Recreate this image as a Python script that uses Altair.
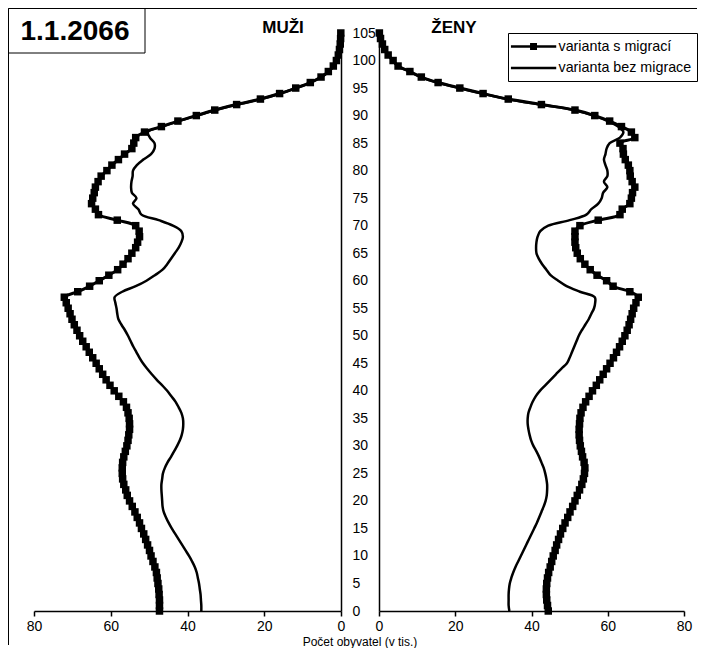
import altair as alt
import pandas as pd

ages = list(range(0, 106))

men_mig = [47.3, 47.3, 47.3, 47.4, 47.5, 47.7, 47.9, 48.1, 48.5, 49.0,
           49.5, 49.9, 50.4, 50.9, 51.4, 52.0, 52.5, 53.1, 53.7, 54.4,
           55.1, 55.7, 56.1, 56.6, 56.9, 57.0, 57.0, 56.9, 56.6, 56.2,
           55.8, 55.5, 55.3, 55.1, 55.1, 55.2, 55.5, 55.9, 56.7, 57.9,
           59.1, 60.2, 61.2, 62.1, 63.0, 63.8, 64.7, 65.6, 66.4, 67.3,
           68.1, 68.8, 69.5, 70.1, 70.6, 71.1, 71.6, 72.1, 68.6, 65.5,
           63.0, 60.5, 58.2, 56.8, 55.5, 54.5, 53.5, 53.0, 52.5, 52.6,
           53.5, 58.3, 63.2, 64.0, 65.0, 64.7, 64.3, 64.0, 63.3, 62.5,
           61.0, 59.7, 58.0, 56.4, 54.5, 54.0, 53.5, 51.2, 46.8, 42.5,
           37.7, 32.9, 27.2, 21.0, 16.0, 11.8, 8.0, 5.2, 3.3, 2.0,
           1.2, 0.7, 0.4, 0.2, 0.1, 0.05]

men_nomig = [36.4, 36.4, 36.5, 36.6, 36.8, 37.0, 37.3, 37.6, 38.1, 38.8,
             39.6, 40.5, 41.4, 42.3, 43.2, 44.1, 44.9, 45.6, 46.2, 46.5,
             46.6, 46.7, 46.8, 46.8, 46.6, 46.4, 45.9, 45.2, 44.3, 43.5,
             42.7, 42.0, 41.5, 41.2, 41.1, 41.2, 41.6, 42.3, 43.1, 44.2,
             45.3, 46.6, 48.0, 49.3, 50.5, 51.6, 52.5, 53.3, 54.1, 54.8,
             55.5, 56.3, 57.2, 58.0, 58.3, 58.5, 58.8, 59.0, 57.0, 53.5,
             50.7, 48.5, 46.5, 45.3, 44.3, 43.3, 42.3, 41.6, 41.2, 41.6,
             43.8, 47.5, 52.0, 52.8, 54.2, 53.3, 54.5, 54.7, 54.6, 54.3,
             54.2, 53.2, 51.5, 49.5, 48.6, 48.6, 49.8, 50.3, 46.5, 42.3,
             37.5, 32.7, 27.0, 20.8, 15.8, 11.7, 7.9, 5.1, 3.2, 1.9,
             1.1, 0.6, 0.3, 0.2, 0.1, 0.05]

women_mig = [44.4, 44.2, 44.0, 43.9, 43.9, 44.0, 44.2, 44.5, 44.9, 45.3,
             45.7, 46.2, 46.6, 47.1, 47.6, 48.2, 48.8, 49.5, 50.1, 50.8,
             51.4, 52.0, 52.6, 53.2, 53.6, 53.9, 54.0, 53.8, 53.4, 53.1,
             52.8, 52.6, 52.5, 52.5, 52.6, 52.7, 53.0, 53.5, 54.2, 55.1,
             56.0, 57.0, 57.9, 58.8, 59.7, 60.6, 61.5, 62.3, 63.1, 63.8,
             64.5, 65.1, 65.6, 66.0, 66.4, 66.8, 67.4, 68.0, 65.8, 61.4,
             59.7, 57.2, 55.4, 54.0, 52.8, 52.0, 51.6, 51.4, 51.4, 51.4,
             52.7, 57.5, 63.2, 63.8, 65.8, 66.2, 66.5, 67.1, 66.4, 65.9,
             65.8, 65.4, 64.6, 64.1, 64.0, 63.2, 67.1, 66.2, 63.6, 60.5,
             56.6, 51.4, 42.6, 33.9, 27.3, 21.2, 15.5, 11.1, 8.1, 5.0,
             3.7, 2.4, 1.5, 0.9, 0.4, 0.1]

women_nomig = [34.2, 34.0, 34.0, 34.0, 34.1, 34.3, 34.7, 35.2, 35.8, 36.5,
               37.2, 37.9, 38.6, 39.3, 40.0, 40.7, 41.4, 42.0, 42.6, 43.2,
               43.7, 44.0, 44.1, 44.1, 43.9, 43.6, 43.2, 42.6, 42.0, 41.3,
               40.5, 39.9, 39.5, 39.2, 39.0, 39.0, 39.2, 39.7, 40.3, 41.1,
               42.2, 43.6, 45.0, 46.4, 47.8, 49.3, 50.0, 50.6, 51.2, 51.8,
               52.4, 53.2, 54.1, 55.0, 55.7, 56.4, 56.7, 56.6, 52.7, 49.2,
               47.0, 45.0, 43.9, 42.8, 41.9, 41.3, 41.2, 41.3, 41.6, 42.3,
               44.4, 50.0, 54.4, 55.7, 57.5, 58.4, 58.8, 59.9, 59.0, 59.9,
               59.9, 59.4, 59.0, 59.4, 59.7, 60.5, 63.2, 64.1, 62.7, 60.0,
               56.2, 51.0, 42.3, 33.6, 27.0, 21.0, 15.3, 11.0, 8.0, 4.9,
               3.6, 2.3, 1.4, 0.8, 0.4, 0.1]

x_ticks = [0, 20, 40, 60, 80]
age_ticks = list(range(0, 106, 5))

LAB_MIG = "varianta s migrací"
LAB_NOMIG = "varianta bez migrace"
TITLE = "1.1.2066"
MEN = "MUŽI"
WOMEN = "ŽENY"
XTITLE = "Počet obyvatel (v tis.)"

FONT = "Liberation Sans"
W_L, W_R, H = 307, 305, 578


def long_df(mig, nomig):
    return pd.DataFrame({
        "age": ages + ages,
        "value": mig + nomig,
        "variant": [LAB_MIG] * len(ages) + [LAB_NOMIG] * len(ages),
    })


men = long_df(men_mig, men_nomig)
women = long_df(women_mig, women_nomig)
dummy = pd.DataFrame({"k": [0]})


def x_enc(reverse):
    return alt.X("value:Q",
                 scale=alt.Scale(domain=[0, 80], reverse=reverse, nice=False),
                 axis=alt.Axis(values=x_ticks, title=None, grid=False, tickSize=5,
                               labelPadding=3, labelFontSize=14, labelFont=FONT,
                               labelFlush=False, labelColor="black", tickColor="black",
                               domainColor="black", domainWidth=1.5, tickWidth=1.5))


def y_enc(left_panel):
    if left_panel:
        ax = alt.Axis(orient="right", values=age_ticks, title=None, grid=False,
                      ticks=False, labelPadding=11, labelFontSize=14, labelFont=FONT,
                      labelColor="black", labelAlign="left", domainColor="black",
                      domainWidth=1.5)
    else:
        ax = alt.Axis(orient="left", values=age_ticks, title=None, grid=False,
                      ticks=False, labels=False, domainColor="black", domainWidth=1.5)
    return alt.Y("age:Q", scale=alt.Scale(domain=[0, 105], nice=False, zero=False), axis=ax)


def panel_layers(df, reverse, left_panel):
    base = alt.Chart(df).encode(x=x_enc(reverse), y=y_enc(left_panel),
                                order=alt.Order("age:Q"))
    nomig = base.transform_filter(alt.datum.variant == LAB_NOMIG).mark_line(
        color="black", strokeWidth=2.5, interpolate="catmull-rom")
    mig = base.transform_filter(alt.datum.variant == LAB_MIG).mark_line(
        color="black", strokeWidth=3, interpolate="catmull-rom")
    pts = base.transform_filter(alt.datum.variant == LAB_MIG).mark_point(
        shape="square", filled=True, size=56, color="black", opacity=1)
    return [nomig, mig, pts]


# decorations of the left panel (frame, title box, panel label, axis title)
top_rule = alt.Chart(dummy).mark_rule(color="black", strokeWidth=1).encode(
    x=alt.value(-25.5), x2=alt.value(663), y=alt.value(-24.5))
left_rule = alt.Chart(dummy).mark_rule(color="black", strokeWidth=1).encode(
    x=alt.value(-25.5), y=alt.value(-24.5), y2=alt.value(612))
title_box = alt.Chart(dummy).mark_rect(fill="white", stroke="black", strokeWidth=1).encode(
    x=alt.value(-25.5), x2=alt.value(111), y=alt.value(-24.5), y2=alt.value(20))
title_txt = alt.Chart(dummy).mark_text(font=FONT, fontSize=28, fontWeight="bold",
                                       align="center", baseline="alphabetic",
                                       color="black").encode(
    x=alt.value(41), y=alt.value(7), text=alt.value(TITLE))
men_txt = alt.Chart(dummy).mark_text(font=FONT, fontSize=17, fontWeight="bold",
                                     align="center", baseline="alphabetic",
                                     color="black").encode(
    x=alt.value(249), y=alt.value(0), text=alt.value(MEN))
xtitle_txt = alt.Chart(dummy).mark_text(font=FONT, fontSize=12, align="center",
                                        baseline="alphabetic", color="black").encode(
    x=alt.value(326), y=alt.value(612.5), text=alt.value(XTITLE))

left = alt.layer(*panel_layers(men, True, True),
                 top_rule, left_rule, title_box, title_txt, men_txt, xtitle_txt
                 ).properties(width=W_L, height=H)

# legend: a real legend driven by a shape scale with custom line(+square) symbols
SYM_MIG = "M-1.51,0H4.96M1.4,-0.32H2.04V0.32H1.4Z"
SYM_NOMIG = "M-1.51,0H4.96"
legend_layer = alt.Chart(women).mark_point(fill="black", stroke="black", strokeWidth=2.5,
                                           opacity=0).encode(
    x=x_enc(False), y=y_enc(False),
    shape=alt.Shape("variant:N",
                    scale=alt.Scale(domain=[LAB_MIG, LAB_NOMIG], range=[SYM_MIG, SYM_NOMIG]),
                    legend=alt.Legend(title=None, orient="none", legendX=129, legendY=0,
                                      strokeColor="black", fillColor="white", padding=5,
                                      symbolSize=196, symbolStrokeWidth=2.5,
                                      symbolOpacity=1,
                                      labelFont=FONT, labelFontSize=14.3, labelColor="black",
                                      labelOffset=28.5, rowPadding=5.5, labelLimit=400)))
women_txt = alt.Chart(dummy).mark_text(font=FONT, fontSize=17, fontWeight="bold",
                                       align="center", baseline="alphabetic",
                                       color="black").encode(
    x=alt.value(75), y=alt.value(0), text=alt.value(WOMEN))

right = alt.layer(*panel_layers(women, False, False), legend_layer, women_txt
                  ).properties(width=W_R, height=H)

chart = alt.hconcat(left, right, spacing=38, bounds="flush").resolve_scale(
    shape="independent").resolve_legend(shape="independent").properties(
    padding={"left": 0, "top": 0, "right": 0, "bottom": 0}
).configure_view(stroke=None)

chart.save("out.html", embed_options={"renderer": "svg", "actions": False})
